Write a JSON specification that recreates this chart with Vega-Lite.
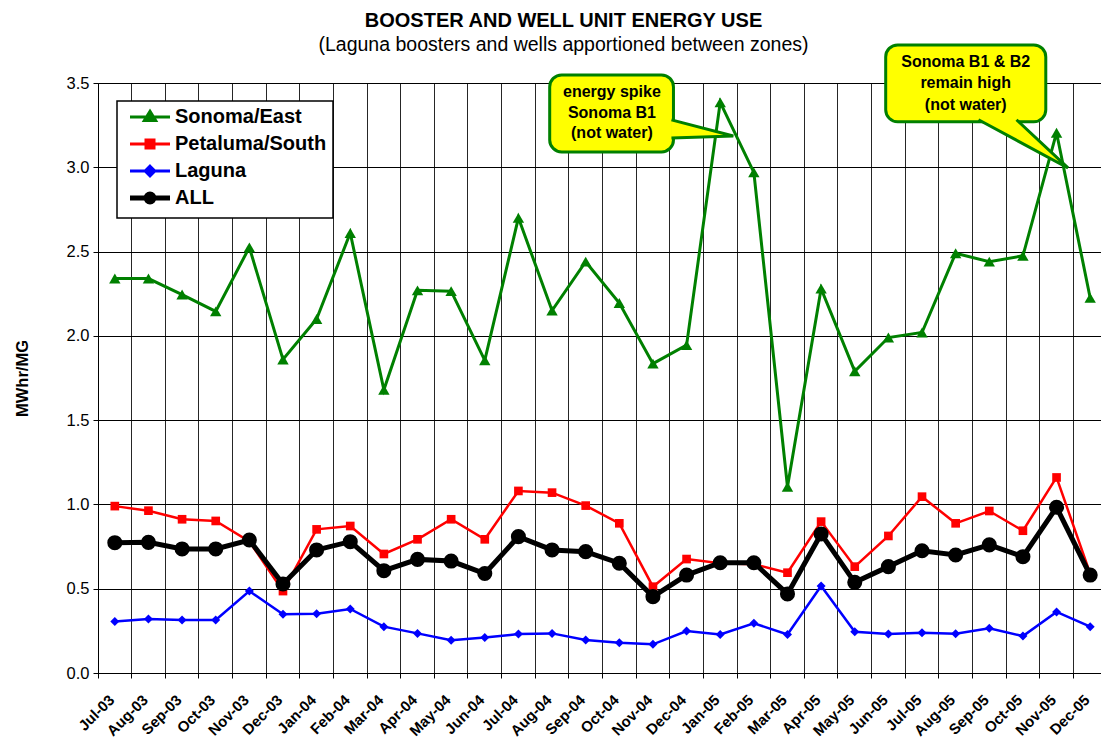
{
  "$schema": "https://vega.github.io/schema/vega-lite/v6.json",
  "width": 1003,
  "height": 590,
  "autosize": {"type": "none"},
  "padding": {"left": 98, "top": 83, "right": 0, "bottom": 67},
  "background": "white",
  "config": {"font": "Liberation Sans", "view": {"stroke": "#808080", "strokeWidth": 1}},
  "title": {
    "text": "BOOSTER AND WELL UNIT ENERGY USE",
    "subtitle": "(Laguna boosters and wells apportioned between zones)",
    "anchor": "middle", "frame": "group", "dx": -36, "offset": -11,
    "fontSize": 20, "fontWeight": "bold", "color": "black",
    "subtitleFontSize": 19.5, "subtitleFontWeight": "normal", "subtitleColor": "black", "subtitlePadding": 5
  },
  "datasets": {
    "series": [
      {"m":"Jul-03","s":"Sonoma/East","v":2.34},{"m":"Aug-03","s":"Sonoma/East","v":2.34},{"m":"Sep-03","s":"Sonoma/East","v":2.245},{"m":"Oct-03","s":"Sonoma/East","v":2.145},{"m":"Nov-03","s":"Sonoma/East","v":2.525},{"m":"Dec-03","s":"Sonoma/East","v":1.86},
      {"m":"Jan-04","s":"Sonoma/East","v":2.1},{"m":"Feb-04","s":"Sonoma/East","v":2.61},{"m":"Mar-04","s":"Sonoma/East","v":1.68},{"m":"Apr-04","s":"Sonoma/East","v":2.27},{"m":"May-04","s":"Sonoma/East","v":2.265},{"m":"Jun-04","s":"Sonoma/East","v":1.855},
      {"m":"Jul-04","s":"Sonoma/East","v":2.7},{"m":"Aug-04","s":"Sonoma/East","v":2.15},{"m":"Sep-04","s":"Sonoma/East","v":2.44},{"m":"Oct-04","s":"Sonoma/East","v":2.195},{"m":"Nov-04","s":"Sonoma/East","v":1.835},{"m":"Dec-04","s":"Sonoma/East","v":1.945},
      {"m":"Jan-05","s":"Sonoma/East","v":3.385},{"m":"Feb-05","s":"Sonoma/East","v":2.97},{"m":"Mar-05","s":"Sonoma/East","v":1.105},{"m":"Apr-05","s":"Sonoma/East","v":2.28},{"m":"May-05","s":"Sonoma/East","v":1.79},{"m":"Jun-05","s":"Sonoma/East","v":1.99},
      {"m":"Jul-05","s":"Sonoma/East","v":2.02},{"m":"Aug-05","s":"Sonoma/East","v":2.49},{"m":"Sep-05","s":"Sonoma/East","v":2.44},{"m":"Oct-05","s":"Sonoma/East","v":2.475},{"m":"Nov-05","s":"Sonoma/East","v":3.205},{"m":"Dec-05","s":"Sonoma/East","v":2.225},
      {"m":"Jul-03","s":"Petaluma/South","v":0.99},{"m":"Aug-03","s":"Petaluma/South","v":0.963},{"m":"Sep-03","s":"Petaluma/South","v":0.912},{"m":"Oct-03","s":"Petaluma/South","v":0.902},{"m":"Nov-03","s":"Petaluma/South","v":0.78},{"m":"Dec-03","s":"Petaluma/South","v":0.486},
      {"m":"Jan-04","s":"Petaluma/South","v":0.852},{"m":"Feb-04","s":"Petaluma/South","v":0.872},{"m":"Mar-04","s":"Petaluma/South","v":0.706},{"m":"Apr-04","s":"Petaluma/South","v":0.793},{"m":"May-04","s":"Petaluma/South","v":0.912},{"m":"Jun-04","s":"Petaluma/South","v":0.793},
      {"m":"Jul-04","s":"Petaluma/South","v":1.08},{"m":"Aug-04","s":"Petaluma/South","v":1.07},{"m":"Sep-04","s":"Petaluma/South","v":0.993},{"m":"Oct-04","s":"Petaluma/South","v":0.888},{"m":"Nov-04","s":"Petaluma/South","v":0.512},{"m":"Dec-04","s":"Petaluma/South","v":0.676},
      {"m":"Jan-05","s":"Petaluma/South","v":0.651},{"m":"Feb-05","s":"Petaluma/South","v":0.645},{"m":"Mar-05","s":"Petaluma/South","v":0.595},{"m":"Apr-05","s":"Petaluma/South","v":0.898},{"m":"May-05","s":"Petaluma/South","v":0.631},{"m":"Jun-05","s":"Petaluma/South","v":0.813},
      {"m":"Jul-05","s":"Petaluma/South","v":1.046},{"m":"Aug-05","s":"Petaluma/South","v":0.888},{"m":"Sep-05","s":"Petaluma/South","v":0.961},{"m":"Oct-05","s":"Petaluma/South","v":0.844},{"m":"Nov-05","s":"Petaluma/South","v":1.16},{"m":"Dec-05","s":"Petaluma/South","v":0.59},
      {"m":"Jul-03","s":"Laguna","v":0.305},{"m":"Aug-03","s":"Laguna","v":0.32},{"m":"Sep-03","s":"Laguna","v":0.314},{"m":"Oct-03","s":"Laguna","v":0.314},{"m":"Nov-03","s":"Laguna","v":0.486},{"m":"Dec-03","s":"Laguna","v":0.348},
      {"m":"Jan-04","s":"Laguna","v":0.352},{"m":"Feb-04","s":"Laguna","v":0.38},{"m":"Mar-04","s":"Laguna","v":0.275},{"m":"Apr-04","s":"Laguna","v":0.235},{"m":"May-04","s":"Laguna","v":0.194},{"m":"Jun-04","s":"Laguna","v":0.21},
      {"m":"Jul-04","s":"Laguna","v":0.231},{"m":"Aug-04","s":"Laguna","v":0.235},{"m":"Sep-04","s":"Laguna","v":0.196},{"m":"Oct-04","s":"Laguna","v":0.18},{"m":"Nov-04","s":"Laguna","v":0.17},{"m":"Dec-04","s":"Laguna","v":0.249},
      {"m":"Jan-05","s":"Laguna","v":0.229},{"m":"Feb-05","s":"Laguna","v":0.295},{"m":"Mar-05","s":"Laguna","v":0.229},{"m":"Apr-05","s":"Laguna","v":0.516},{"m":"May-05","s":"Laguna","v":0.245},{"m":"Jun-05","s":"Laguna","v":0.231},
      {"m":"Jul-05","s":"Laguna","v":0.239},{"m":"Aug-05","s":"Laguna","v":0.233},{"m":"Sep-05","s":"Laguna","v":0.265},{"m":"Oct-05","s":"Laguna","v":0.219},{"m":"Nov-05","s":"Laguna","v":0.362},{"m":"Dec-05","s":"Laguna","v":0.275},
      {"m":"Jul-03","s":"ALL","v":0.773},{"m":"Aug-03","s":"ALL","v":0.775},{"m":"Sep-03","s":"ALL","v":0.736},{"m":"Oct-03","s":"ALL","v":0.736},{"m":"Nov-03","s":"ALL","v":0.789},{"m":"Dec-03","s":"ALL","v":0.528},
      {"m":"Jan-04","s":"ALL","v":0.73},{"m":"Feb-04","s":"ALL","v":0.779},{"m":"Mar-04","s":"ALL","v":0.607},{"m":"Apr-04","s":"ALL","v":0.674},{"m":"May-04","s":"ALL","v":0.664},{"m":"Jun-04","s":"ALL","v":0.59},
      {"m":"Jul-04","s":"ALL","v":0.809},{"m":"Aug-04","s":"ALL","v":0.73},{"m":"Sep-04","s":"ALL","v":0.72},{"m":"Oct-04","s":"ALL","v":0.651},{"m":"Nov-04","s":"ALL","v":0.453},{"m":"Dec-04","s":"ALL","v":0.581},
      {"m":"Jan-05","s":"ALL","v":0.654},{"m":"Feb-05","s":"ALL","v":0.654},{"m":"Mar-05","s":"ALL","v":0.469},{"m":"Apr-05","s":"ALL","v":0.825},{"m":"May-05","s":"ALL","v":0.538},{"m":"Jun-05","s":"ALL","v":0.631},
      {"m":"Jul-05","s":"ALL","v":0.725},{"m":"Aug-05","s":"ALL","v":0.7},{"m":"Sep-05","s":"ALL","v":0.76},{"m":"Oct-05","s":"ALL","v":0.69},{"m":"Nov-05","s":"ALL","v":0.983},{"m":"Dec-05","s":"ALL","v":0.581}
    ],
    "boxes": [
      {"c":1,"x1":13.43,"x2":17.11,"y1":3.548,"y2":3.091},
      {"c":2,"x1":23.42,"x2":28.18,"y1":3.726,"y2":3.27}
    ],
    "pointers": [
      {"c":1,"o":0,"px":17.05,"py":3.281},{"c":1,"o":1,"px":18.89,"py":3.186},{"c":1,"o":2,"px":17.05,"py":3.174},
      {"c":2,"o":0,"px":26.18,"py":3.282},{"c":2,"o":1,"px":28.84,"py":2.996},{"c":2,"o":2,"px":27.31,"py":3.282}
    ],
    "notes": [
      {"tx":15.28,"ty":3.448,"t":"energy spike"},{"tx":15.28,"ty":3.324,"t":"Sonoma B1"},{"tx":15.28,"ty":3.202,"t":"(not water)"},
      {"tx":25.8,"ty":3.626,"t":"Sonoma B1 & B2"},{"tx":25.8,"ty":3.498,"t":"remain high"},{"tx":25.8,"ty":3.37,"t":"(not water)"}
    ]
  },
  "resolve": {"scale": {"x": "independent", "y": "independent"}},
  "layer": [
    {
      "data": {"name": "series"},
      "encoding": {
        "x": {
          "field": "m", "type": "ordinal", "sort": null,
          "scale": {"type": "band", "paddingInner": 0, "paddingOuter": 0, "range": [0, 1009]},
          "axis": {
            "title": null, "bandPosition": 0, "labelOffset": -3,
            "grid": true, "gridColor": "#000000", "gridWidth": 1, "gridOpacity": 0.85,
            "ticks": true, "tickSize": 5, "tickColor": "#000000", "domainColor": "#000000", "domainWidth": 1,
            "labelAngle": -45, "labelAlign": "right", "labelBaseline": "middle",
            "labelFontSize": 15, "labelFontWeight": "bold", "labelColor": "#000000", "labelPadding": 19
          }
        },
        "y": {
          "field": "v", "type": "quantitative",
          "scale": {"domain": [0, 3.5], "nice": false, "zero": true},
          "axis": {
            "title": "MWhr/MG", "titleFontSize": 16.5, "titleFontWeight": "bold", "titleColor": "#000000", "titlePadding": 36,
            "values": [0, 0.5, 1, 1.5, 2, 2.5, 3, 3.5], "format": ".1f",
            "grid": true, "gridColor": "#000000", "gridWidth": 1,
            "tickSize": 5, "tickColor": "#000000", "domainColor": "#000000",
            "labelFontSize": 16.5, "labelColor": "#000000", "labelPadding": 4
          }
        },
        "color": {
          "field": "s", "type": "nominal",
          "scale": {"domain": ["Sonoma/East", "Petaluma/South", "Laguna", "ALL"], "range": ["#008000", "#FF0000", "#0000FF", "#000000"]},
          "legend": {
            "title": null, "orient": "none", "legendX": 19, "legendY": 18,
            "fillColor": "white", "strokeColor": "black", "padding": 6,
            "labelFontSize": 20, "labelFontWeight": "bold", "labelColor": "#000000", "labelLimit": 400,
            "gridAlign": "all", "rowPadding": -1,
            "encode": {
              "legend": {"update": {"strokeWidth": {"value": 1.5}}},
              "symbols": {"update": {
                "shape": {"signal": "datum.value === 'Sonoma/East' ? 'M-1,0H1M0,-0.28L0.28,0.17L-0.28,0.17Z' : datum.value === 'Petaluma/South' ? 'M-1,0H1M-0.2,-0.2H0.2V0.2H-0.2Z' : datum.value === 'Laguna' ? 'M-1,0H1M0,-0.24L0.24,0L0,0.24L-0.24,0Z' : 'M-1,0H1M-0.2,0A0.2,0.2 0 1,0 0.2,0A0.2,0.2 0 1,0 -0.2,0Z'"},
                "size": {"value": 1600},
                "x": {"value": 27},
                "fill": {"signal": "scale('color', datum.value)"},
                "stroke": {"signal": "scale('color', datum.value)"},
                "strokeWidth": {"signal": "datum.value === 'ALL' ? 5 : 3"},
                "opacity": {"value": 1}, "fillOpacity": {"value": 1}, "strokeOpacity": {"value": 1}
              }},
              "labels": {"update": {"x": {"value": 52}}}
            }
          }
        }
      },
      "layer": [
        {"transform": [{"filter": "datum.s === 'Sonoma/East'"}],
         "mark": {"type": "line", "strokeWidth": 3, "point": {"shape": "triangle-up", "size": 130, "filled": true, "opacity": 1}}},
        {"transform": [{"filter": "datum.s === 'Petaluma/South'"}],
         "mark": {"type": "line", "strokeWidth": 2.5, "point": {"shape": "square", "size": 75, "filled": true, "opacity": 1}}},
        {"transform": [{"filter": "datum.s === 'Laguna'"}],
         "mark": {"type": "line", "strokeWidth": 2.5, "point": {"shape": "diamond", "size": 81, "filled": true, "opacity": 1}}},
        {"transform": [{"filter": "datum.s === 'ALL'"}],
         "mark": {"type": "line", "strokeWidth": 5, "point": {"shape": "circle", "size": 227, "filled": true, "opacity": 1}}}
      ]
    },
    {
      "layer": [
        {
          "data": {"name": "boxes"},
          "mark": {"type": "rect", "fill": "#FFFF00", "stroke": "#008000", "strokeWidth": 3, "cornerRadius": 12},
          "encoding": {
            "x": {"field": "x1", "type": "quantitative", "scale": {"domain": [0, 30], "range": [0, 1009], "nice": false, "zero": false}, "axis": null},
            "x2": {"field": "x2"},
            "y": {"field": "y1", "type": "quantitative", "scale": {"domain": [0, 3.5], "nice": false}, "axis": null},
            "y2": {"field": "y2"}
          }
        },
        {
          "data": {"name": "pointers"},
          "mark": {"type": "line", "fill": "#FFFF00", "stroke": "#008000", "strokeWidth": 3, "strokeJoin": "miter"},
          "encoding": {
            "x": {"field": "px", "type": "quantitative", "scale": {"domain": [0, 30], "range": [0, 1009], "nice": false, "zero": false}, "axis": null},
            "y": {"field": "py", "type": "quantitative", "scale": {"domain": [0, 3.5], "nice": false}, "axis": null},
            "detail": {"field": "c", "type": "nominal"},
            "order": {"field": "o", "type": "quantitative"}
          }
        },
        {
          "data": {"name": "notes"},
          "mark": {"type": "text", "fontWeight": "bold", "fontSize": 16, "align": "center", "baseline": "middle", "color": "#000000"},
          "encoding": {
            "x": {"field": "tx", "type": "quantitative", "scale": {"domain": [0, 30], "range": [0, 1009], "nice": false, "zero": false}, "axis": null},
            "y": {"field": "ty", "type": "quantitative", "scale": {"domain": [0, 3.5], "nice": false}, "axis": null},
            "text": {"field": "t"}
          }
        }
      ]
    }
  ]
}
